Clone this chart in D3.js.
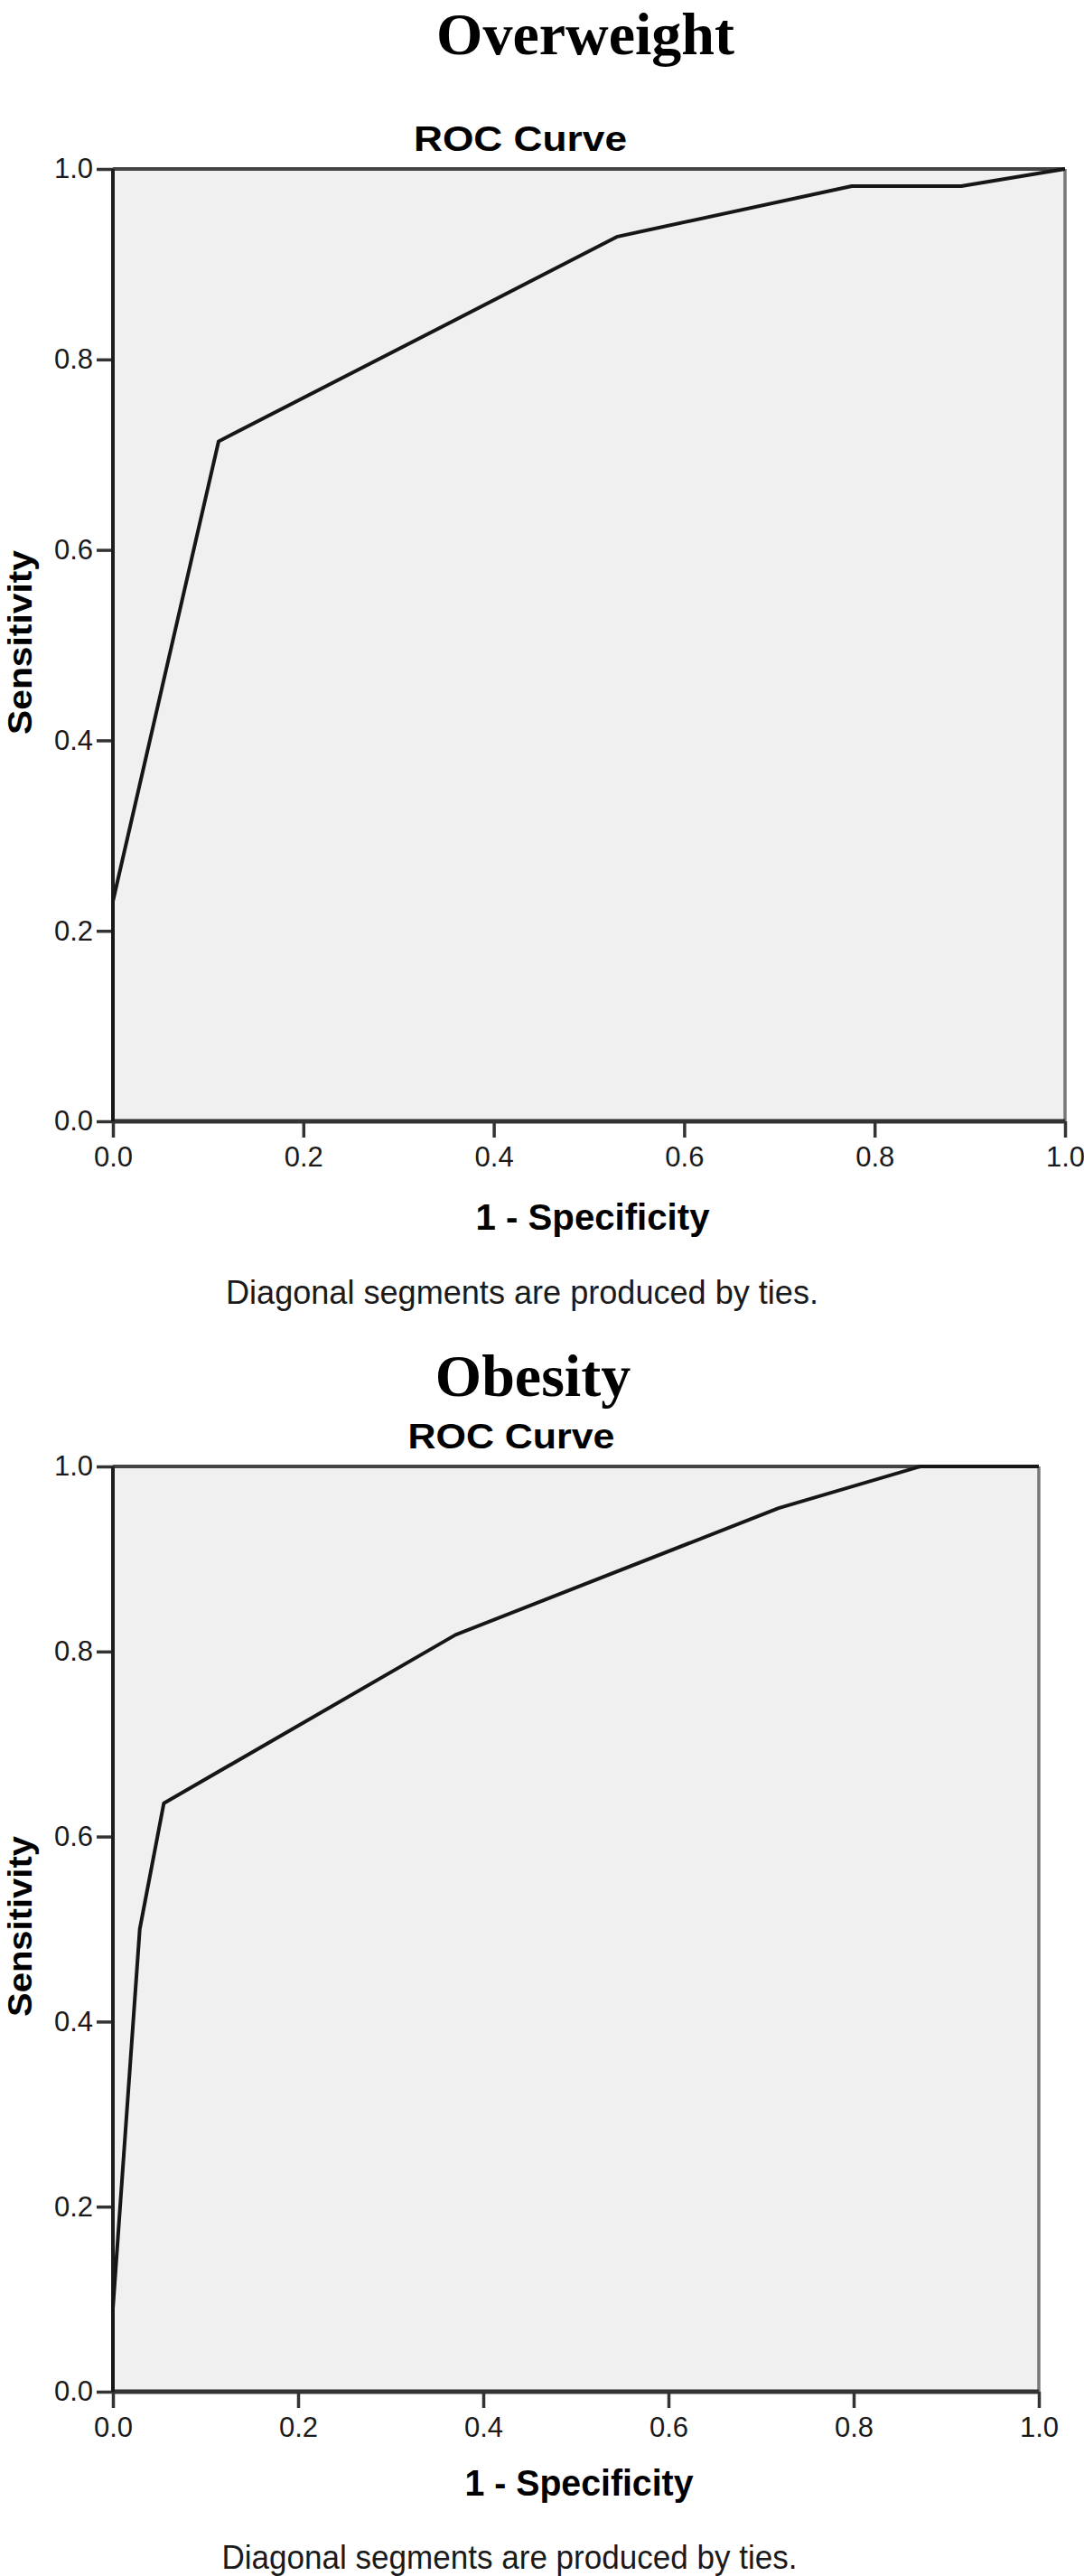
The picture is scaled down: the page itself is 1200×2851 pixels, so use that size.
<!DOCTYPE html>
<html lang="en">
<head>
    <meta charset="UTF-8">
    <title>ROC Curves</title>
    <style>
        body { margin: 0; background: #ffffff; }
        svg text { font-family: 'Liberation Sans', Arial, sans-serif; }
    </style>
    <script src="https://d3js.org/d3.v7.min.js"></script>
</head>
<body>
    <svg width="1200" height="2851"></svg>
    <script>
        // values
        const tickValues = [0, 0.2, 0.4, 0.6, 0.8, 1.0];

        const overweightFpr = [0, 0, 0.111, 0.53, 0.776, 0.891, 1];
        const overweightTpr = [0, 0.231, 0.714, 0.929, 0.982, 0.982, 1];

        const obesityFpr = [0, 0, 0.029, 0.055, 0.37, 0.719, 0.872, 1];
        const obesityTpr = [0, 0.09, 0.5, 0.636, 0.818, 0.955, 1, 1];

        const svg = d3.select("svg");

        svg.append("rect")
            .attr("width", 1200).attr("height", 2851)
            .attr("fill", "#ffffff");

        function drawRoc(opt) {
            const x = d3.scaleLinear().domain([0, 1]).range([opt.left, opt.right]);
            const y = d3.scaleLinear().domain([0, 1]).range([opt.bottom, opt.top]);
            const g = svg.append("g");

            // panel title (serif, like the paper)
            g.append("text")
                .attr("x", opt.titleX).attr("y", opt.titleY)
                .attr("text-anchor", "middle")
                .style("font-family", "'Liberation Serif', 'Times New Roman', serif")
                .style("font-weight", "700")
                .style("font-size", "66px")
                .text(opt.title);

            g.append("text")
                .attr("x", opt.rocX).attr("y", opt.rocY)
                .attr("text-anchor", "middle")
                .attr("textLength", opt.rocLen)
                .attr("lengthAdjust", "spacingAndGlyphs")
                .style("font-weight", "700")
                .style("font-size", "38px")
                .text("ROC Curve");

            // plot background
            g.append("rect")
                .attr("x", x(0)).attr("y", y(1))
                .attr("width", x(1) - x(0)).attr("height", y(0) - y(1))
                .attr("fill", "#f0f0f0");

            // axes
            const xAxis = g.append("g")
                .attr("transform", `translate(0,${y(0)})`)
                .call(d3.axisBottom(x).tickValues(tickValues)
                    .tickFormat(d3.format(".1f")).tickSize(18).tickPadding(10));
            const yAxis = g.append("g")
                .attr("transform", `translate(${x(0)},0)`)
                .call(d3.axisLeft(y).tickValues(tickValues)
                    .tickFormat(d3.format(".1f")).tickSize(18).tickPadding(4));

            [xAxis, yAxis].forEach(a => {
                a.select(".domain").remove();
                a.selectAll("line").attr("stroke", "#333").attr("stroke-width", 3.5);
                a.selectAll("text")
                    .style("font-family", "'Liberation Sans', Arial, sans-serif")
                    .style("font-size", "31px")
                    .attr("fill", "#1a1a1a");
            });

            // frame
            g.append("line")
                .attr("x1", x(0)).attr("x2", x(1)).attr("y1", y(1)).attr("y2", y(1))
                .attr("stroke", "#444").attr("stroke-width", 4);
            g.append("line")
                .attr("x1", x(1)).attr("x2", x(1)).attr("y1", y(1)).attr("y2", y(0))
                .attr("stroke", "#777").attr("stroke-width", 3.5);
            g.append("line")
                .attr("x1", x(0)).attr("x2", x(1)).attr("y1", y(0)).attr("y2", y(0))
                .attr("stroke", "#333").attr("stroke-width", 5);
            g.append("line")
                .attr("x1", x(0)).attr("x2", x(0)).attr("y1", y(1)).attr("y2", y(0))
                .attr("stroke", "#1e1e1e").attr("stroke-width", 4);

            // curve
            const pts = opt.fpr.map((f, i) => [f, opt.tpr[i]]);
            g.append("path")
                .datum(pts)
                .attr("fill", "none")
                .attr("stroke", "#161616")
                .attr("stroke-width", 4)
                .attr("stroke-linejoin", "round")
                .attr("d", d3.line().x(d => x(d[0])).y(d => y(d[1])));

            // axis titles
            g.append("text")
                .attr("x", opt.xLabX).attr("y", opt.xLabY)
                .attr("text-anchor", "middle")
                .attr("textLength", opt.xLabLen)
                .attr("lengthAdjust", "spacingAndGlyphs")
                .style("font-weight", "700")
                .style("font-size", "40px")
                .text("1 - Specificity");

            g.append("text")
                .attr("transform", `translate(35,${(y(0) + y(1)) / 2 - 3}) rotate(-90)`)
                .attr("text-anchor", "middle")
                .attr("textLength", opt.yLabLen)
                .attr("lengthAdjust", "spacingAndGlyphs")
                .style("font-weight", "700")
                .style("font-size", "37px")
                .text("Sensitivity");

            g.append("text")
                .attr("x", opt.noteX).attr("y", opt.noteY)
                .attr("text-anchor", "middle")
                .attr("textLength", opt.noteLen)
                .attr("lengthAdjust", "spacingAndGlyphs")
                .style("font-size", "36px")
                .attr("fill", "#1a1a1a")
                .text("Diagonal segments are produced by ties.");
        }

        drawRoc({
            title: "Overweight", titleX: 648, titleY: 60,
            rocX: 576, rocY: 167, rocLen: 236,
            left: 125, right: 1179, top: 187, bottom: 1241,
            fpr: overweightFpr, tpr: overweightTpr,
            xLabX: 656, xLabY: 1361, xLabLen: 259,
            yLabLen: 204,
            noteX: 578, noteY: 1443, noteLen: 656
        });

        drawRoc({
            title: "Obesity", titleX: 590, titleY: 1545,
            rocX: 566, rocY: 1603, rocLen: 229,
            left: 125, right: 1150, top: 1623, bottom: 2647,
            fpr: obesityFpr, tpr: obesityTpr,
            xLabX: 641, xLabY: 2762, xLabLen: 253,
            yLabLen: 200,
            noteX: 564, noteY: 2843, noteLen: 637
        });
    </script>
</body>
</html>
